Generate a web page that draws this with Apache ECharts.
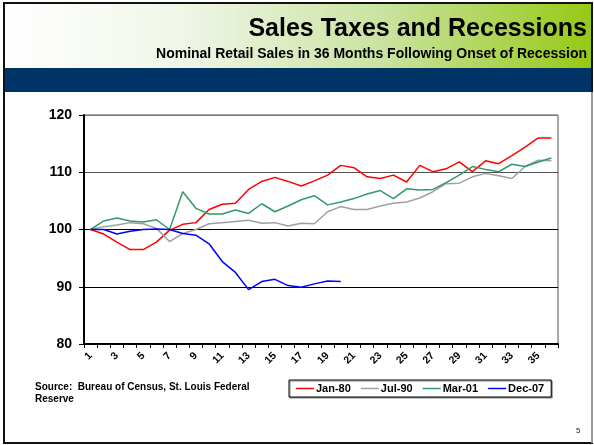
<!DOCTYPE html>
<html>
<head>
<meta charset="utf-8">
<script src="https://cdn.jsdelivr.net/npm/echarts@6/dist/echarts.min.js"></script>
<style>
  html, body { margin: 0; padding: 0; background: #fff; }
  #chart { width: 594px; height: 445px; }
</style>
</head>
<body>
<div id="chart"></div>
<script>
// months after onset of recession
const months = ["1","2","3","4","5","6","7","8","9","10","11","12","13","14","15","16","17","18",
  "19","20","21","22","23","24","25","26","27","28","29","30","31","32","33","34","35","36"];

const jan80 = [100, 99.2, 97.8, 96.5, 96.5, 97.8, 99.9, 100.9, 101.2, 103.5, 104.4, 104.6,
  107.0, 108.4, 109.1, 108.4, 107.6, 108.5, 109.5, 111.2, 110.8, 109.2, 108.9, 109.5,
  108.3, 111.2, 110.1, 110.6, 111.8, 110.1, 112.0, 111.5, 112.9, 114.4, 116.0, 116.0];
const jul90 = [100, 100.5, 100.8, 101.2, 101.0, 100.2, 97.9, 99.3, 100.0, 101.0, 101.2, 101.4,
  101.6, 101.1, 101.2, 100.6, 101.1, 101.0, 103.1, 104.0, 103.5, 103.5, 104.1, 104.6,
  104.8, 105.5, 106.6, 108.0, 108.1, 109.2, 109.8, 109.4, 108.9, 111.0, 112.1, 112.0];
const mar01 = [100, 101.5, 102.0, 101.5, 101.3, 101.7, 100.0, 106.6, 103.7, 102.7, 102.7, 103.4,
  102.8, 104.5, 103.1, 104.1, 105.2, 105.9, 104.3, 104.8, 105.4, 106.2, 106.8, 105.4,
  107.1, 106.9, 107.0, 108.2, 109.5, 111.0, 110.5, 110.1, 111.4, 111.0, 111.8, 112.5];
const dec07 = [100, 100, 99.2, 99.7, 100, 100.1, 100, 99.3, 99.0, 97.5, 94.4, 92.5,
  89.5, 90.9, 91.3, 90.2, 89.9, 90.5, 91.0, 90.9];

const seriesNames = ["Jan-80", "Jul-90", "Mar-01", "Dec-07"];
const seriesData = [jan80, jul90, mar01, dec07];
const seriesColors = ["#ff0000", "#a0a0a0", "#339966", "#0000ff"];

const FONT = "Liberation Sans, Arial, sans-serif";

const chart = echarts.init(document.getElementById("chart"));

const series = seriesNames.map((name, i) => ({
  name: name,
  type: "line",
  data: seriesData[i],
  symbol: "none",
  lineStyle: { color: seriesColors[i], width: 1.5 },
  itemStyle: { color: seriesColors[i] },
}));

const option = {
  animation: false,
  backgroundColor: "#fff",
  graphic: [
    // header gradient
    {
      type: "rect", z: -10,
      shape: { x: 5, y: 4, width: 588, height: 64 },
      style: {
        fill: new echarts.graphic.LinearGradient(0, 0, 1, 0, [
          { offset: 0, color: "#ffffff" },
          { offset: 0.3, color: "#f0f6e8" },
          { offset: 0.65, color: "#c9e29e" },
          { offset: 1, color: "#96c813" },
        ]),
      },
    },
    // navy band
    {
      type: "rect", z: -10,
      shape: { x: 5, y: 68, width: 588, height: 24 },
      style: { fill: "#003366" },
    },
    // slide frame
    {
      type: "rect", z: 10,
      shape: { x: 4, y: 3, width: 588, height: 440 },
      style: { fill: null, stroke: "#111", lineWidth: 2 },
    },
    {
      type: "line", z: 11,
      shape: { x1: 592, y1: 92, x2: 592, y2: 443 },
      style: { stroke: "#9a9a9a", lineWidth: 2 },
    },
    // source note
    {
      type: "text",
      left: 35, top: 381,
      style: {
        text: "Source:  Bureau of Census, St. Louis Federal\nReserve",
        font: "bold 10px " + FONT,
        fill: "#000",
        lineHeight: 12,
      },
    },
    // page number
    {
      type: "text",
      left: 576, top: 427,
      style: { text: "5", font: "8px " + FONT, fill: "#222" },
    },
  ],
  title: [
    {
      text: "Sales Taxes and Recessions",
      right: 7, top: 17,
      padding: 0,
      textStyle: { fontFamily: FONT, fontWeight: "bold", fontSize: 25, color: "#000" },
    },
    {
      text: "Nominal Retail Sales in 36 Months Following Onset of Recession",
      right: 7, top: 47,
      padding: 0,
      textStyle: { fontFamily: FONT, fontWeight: "bold", fontSize: 14, color: "#000" },
    },
  ],
  legend: {
    data: seriesNames,
    icon: "rect",
    left: 289, top: 380,
    padding: [3, 7, 3, 7],
    itemWidth: 18,
    itemHeight: 1.5,
    itemGap: 10,
    borderColor: "#000",
    borderWidth: 1,
    borderRadius: 0,
    backgroundColor: "#fff",
    shadowColor: "#888",
    shadowOffsetX: 1,
    shadowOffsetY: 1,
    textStyle: { fontFamily: FONT, fontWeight: "bold", fontSize: 11, color: "#000", padding: [0, 0, 0, -3] },
  },
  grid: {
    left: 84, right: 36, top: 115, bottom: 101,
    show: true,
    borderColor: "#555",
    borderWidth: 1,
  },
  xAxis: {
    type: "category",
    data: months,
    boundaryGap: true,
    axisLine: { lineStyle: { color: "#000", width: 2 } },
    axisTick: { show: true, interval: 0, length: 4, lineStyle: { color: "#000" } },
    axisLabel: {
      interval: 1,
      rotate: 45,
      margin: 10,
      fontFamily: FONT,
      fontWeight: "bold",
      fontSize: 10.5,
      color: "#000",
    },
  },
  yAxis: {
    type: "value",
    min: 80,
    max: 120,
    interval: 10,
    axisLine: { show: true, lineStyle: { color: "#000", width: 2 } },
    axisTick: { show: true, length: 5, lineStyle: { color: "#000" } },
    splitLine: { show: true, lineStyle: { color: ["#000", "#000", "#000", "#555", "#777"], width: 1 } },
    axisLabel: {
      margin: 12,
      fontFamily: FONT,
      fontWeight: "bold",
      fontSize: 14,
      color: "#000",
    },
  },
  series: series,
};

chart.setOption(option);
</script>
</body>
</html>
